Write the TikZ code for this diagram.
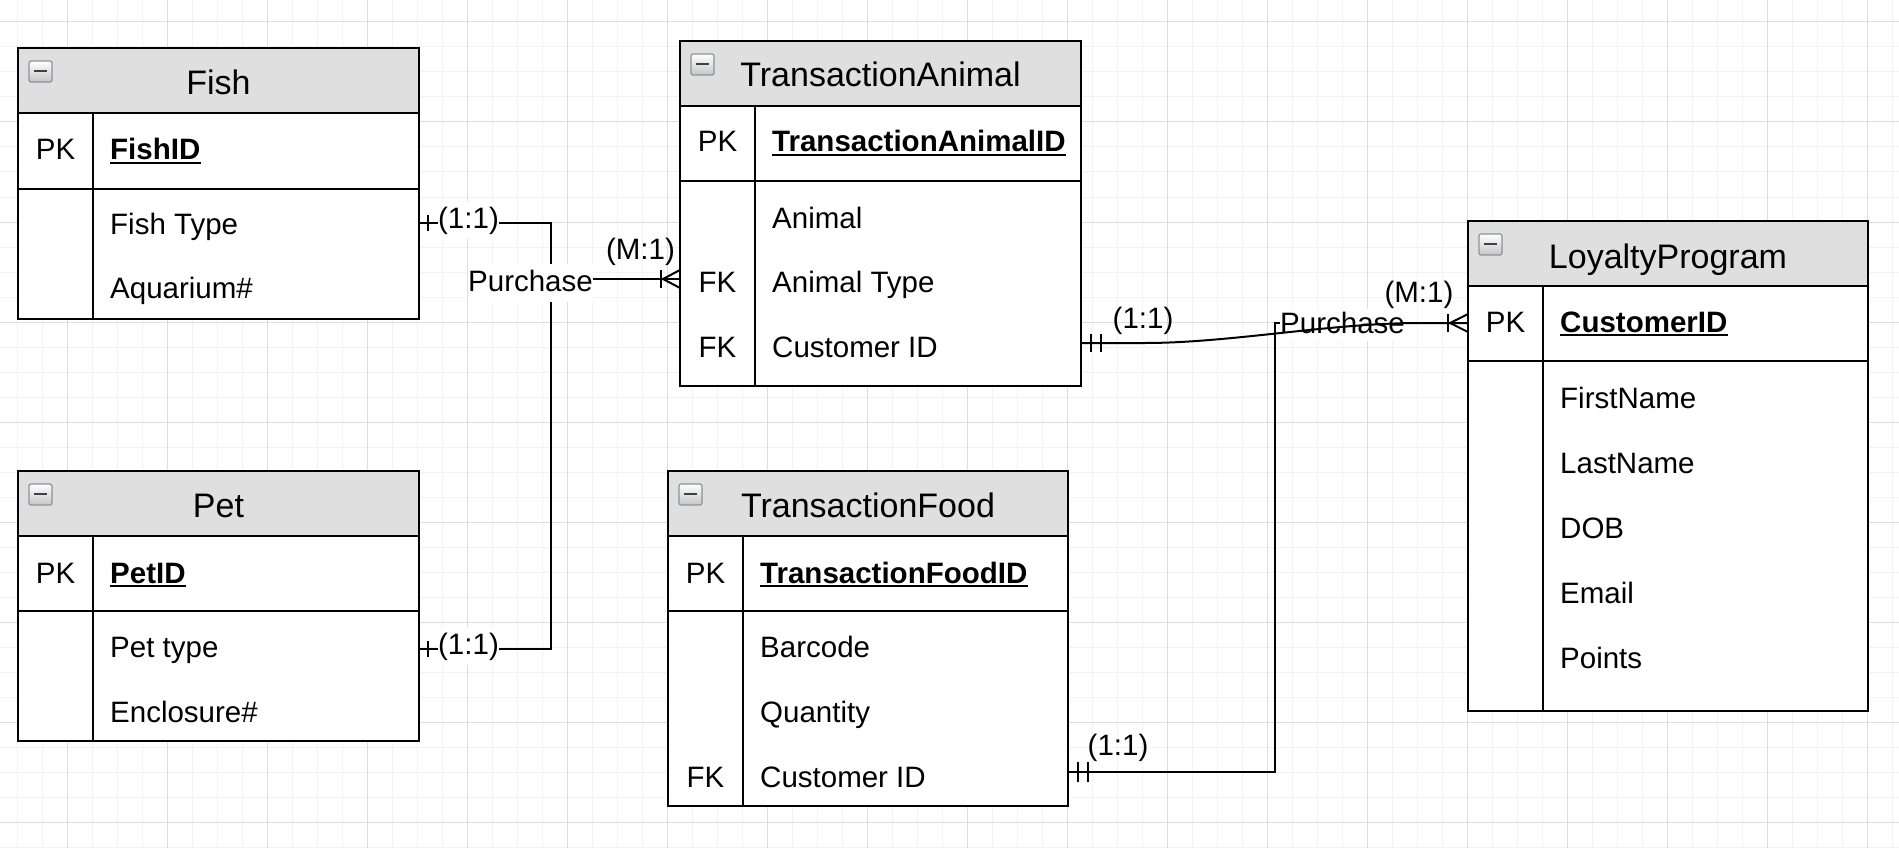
\documentclass[tikz,border=0pt]{standalone}
\usepackage{fontspec}
\setmainfont{Liberation Sans}
\usetikzlibrary{calc}
\definecolor{hdrgray}{HTML}{DFDFDF}
\definecolor{majgrid}{HTML}{DEDEDE}
\definecolor{mingrid}{HTML}{F3F3F3}
\definecolor{iconedge}{HTML}{8A939E}
\newcommand\attrfont{\fontsize{29.5}{35}\selectfont}
\newcommand\titlefont{\fontsize{34}{40}\selectfont}
\tikzset{
  tbl/.style={fill=white, inner sep=0pt, outer sep=0pt, anchor=north west},
  tline/.style={line width=2pt, black},
  attr/.style={font=\attrfont, inner sep=0pt, anchor=base west},
  keycol/.style={font=\attrfont, inner sep=0pt, anchor=base},
  ttl/.style={font=\titlefont, inner sep=0pt, anchor=base},
  pkname/.style={font=\attrfont\bfseries, inner sep=0pt, anchor=base west},
  conn/.style={line width=2pt, black},
  lbl/.style={font=\attrfont, inner sep=0pt, anchor=base},
  lblbg/.style={lbl, fill=white, inner ysep=4pt, text height=23pt, text depth=7pt},
  iconbox/.style={draw=iconedge, line width=1.2pt, rounded corners=2pt, top color=white, bottom color=gray!45},
  minorline/.style={mingrid, line width=1pt},
  majorline/.style={majgrid, line width=1pt}
}
% name, L, T, R, B, H(header bottom), P(pk bottom), D(divider)
\newcommand\ertable[8]{%
  \node[tbl, minimum width={#4-#2}, minimum height={#5-#3}] (#1) at (#2,#3) {};
  \fill[hdrgray] (#2,#3) rectangle (#4,#6);
  \draw[tline] (#2,#6) -- (#4,#6) (#2,#7) -- (#4,#7) (#8,#6) -- (#8,#5);
  \draw[tline] (#1.north west) rectangle (#1.south east);
  \draw[iconbox] (#2+11,#3+13) rectangle (#2+34,#3+34);
  \draw[line width=2pt, black!75] (#2+16,#3+23) -- (#2+29,#3+23);
}
\begin{document}
\begin{tikzpicture}[x=1pt,y=-1pt]
\useasboundingbox (0,0) rectangle (1899,856);
\fill[white] (0,0) rectangle (1899,856);
% grid
\foreach \i in {0,...,75} \draw[minorline] (17+25*\i,0) -- (17+25*\i,848);
\foreach \j in {0,...,33} \draw[minorline] (0,22+25*\j) -- (1899,22+25*\j);
\foreach \i in {0,...,18} \draw[majorline] (67+100*\i,0) -- (67+100*\i,848);
\foreach \j in {0,...,8} \draw[majorline] (0,22+100*\j) -- (1899,22+100*\j);

% ---------- Fish ----------
\ertable{fish}{18}{48}{419}{319}{113}{189}{93}
\node[ttl] (fishT) at (218.5,95) {Fish};
\node[keycol] (fishPK) at (55.5,160) {PK};
\node[pkname] (fishID) at (110,160) {FishID};
\draw[line width=2pt] ([yshift=-3pt]fishID.base west) -- ([yshift=-3pt]fishID.base east);
\node[attr] (fishA1) at (110,234) {Fish Type};
\node[attr] (fishA2) at (110,298) {Aquarium\#};

% ---------- Pet ----------
\ertable{pet}{18}{471}{419}{741}{536}{611}{93}
\node[ttl] (petT) at (218.5,517) {Pet};
\node[keycol] (petPK) at (55.5,583) {PK};
\node[pkname] (petID) at (110,583) {PetID};
\draw[line width=2pt] ([yshift=-3pt]petID.base west) -- ([yshift=-3pt]petID.base east);
\node[attr] (petA1) at (110,657) {Pet type};
\node[attr] (petA2) at (110,722) {Enclosure\#};

% ---------- TransactionAnimal ----------
\ertable{ta}{680}{41}{1081}{386}{106}{181}{755}
\node[ttl] (taT) at (880.5,87) {TransactionAnimal};
\node[keycol] (taPK) at (717.5,152) {PK};
\begin{scope}
\clip (755,106) rectangle (1067,181);
\node[pkname] (taID) at (772,152) {TransactionAnimalID};
\draw[line width=2pt] ([yshift=-3pt]taID.base west) -- ([yshift=-3pt]taID.base east);
\end{scope}
\node[attr] (taA1) at (772,228) {Animal};
\node[keycol] (taFK1) at (717.5,292.5) {FK};
\node[attr] (taA2) at (772,292.5) {Animal Type};
\node[keycol] (taFK2) at (717.5,357) {FK};
\node[attr] (taA3) at (772,357) {Customer ID};

% ---------- TransactionFood ----------
\ertable{tf}{668}{471}{1068}{806}{536}{611}{743}
\node[ttl] (tfT) at (868,517) {TransactionFood};
\node[keycol] (tfPK) at (705.5,583) {PK};
\node[pkname] (tfID) at (760,583) {TransactionFoodID};
\draw[line width=2pt] ([yshift=-3pt]tfID.base west) -- ([yshift=-3pt]tfID.base east);
\node[attr] (tfA1) at (760,657) {Barcode};
\node[attr] (tfA2) at (760,722) {Quantity};
\node[keycol] (tfFK) at (705.5,787) {FK};
\node[attr] (tfA3) at (760,787) {Customer ID};

% ---------- LoyaltyProgram ----------
\ertable{lp}{1468}{221}{1868}{711}{286}{361}{1543}
\node[ttl] (lpT) at (1668,268) {LoyaltyProgram};
\node[keycol] (lpPK) at (1505.5,332) {PK};
\node[pkname] (lpID) at (1560,332) {CustomerID};
\draw[line width=2pt] ([yshift=-3pt]lpID.base west) -- ([yshift=-3pt]lpID.base east);
\node[attr] (lpA1) at (1560,408) {FirstName};
\node[attr] (lpA2) at (1560,473) {LastName};
\node[attr] (lpA3) at (1560,538) {DOB};
\node[attr] (lpA4) at (1560,603) {Email};
\node[attr] (lpA5) at (1560,668) {Points};

% ---------- ports ----------
\path (fish.north east) ++(0,175) coordinate (fishR);
\path (pet.north east) ++(0,178) coordinate (petR);
\path (ta.north west) ++(0,238) coordinate (taL);
\path (ta.north east) ++(0,302) coordinate (taR);
\path (lp.north west) ++(0,102) coordinate (lpL);
\path (tf.north east) ++(0,301) coordinate (tfR);

% ---------- left connectors ----------
\draw[conn] (fishR) -- ++(132,0) |- (petR);
\draw[conn] (taL) -- ++(-129,0);
\draw[conn] ([xshift=9pt,yshift=8pt]fishR) -- ([xshift=9pt,yshift=-8pt]fishR);
\draw[conn] ([xshift=9pt,yshift=8pt]petR) -- ([xshift=9pt,yshift=-8pt]petR);
\draw[conn] ([xshift=-19pt,yshift=9pt]taL) -- ([xshift=-19pt,yshift=-9pt]taL);
\draw[conn] ([yshift=9pt]taL) -- ([xshift=-17pt]taL) -- ([yshift=-9pt]taL);
\node[lblbg] (l11a) at (468.5,228) {(1:1)};
\node[lblbg] (l11b) at (468.5,654) {(1:1)};
\node[lblbg] (purchA) at (530.5,291) {Purchase};
\node[lbl] (lm1a) at (640.5,259) {(M:1)};

% ---------- right connectors ----------
\draw[conn] (tfR) -- ++(207,0) |- (lpL);
\node[lblbg, inner ysep=1pt] (purchB) at (1342.5,333) {Purchase};
\draw[conn] (taR) -- ++(64,0) .. controls +(85,0) and +(-90,0) .. ([xshift=-48pt]lpL) -- (lpL);
\draw[conn] ([xshift=10pt,yshift=9pt]taR) -- ([xshift=10pt,yshift=-9pt]taR);
\draw[conn] ([xshift=20pt,yshift=9pt]taR) -- ([xshift=20pt,yshift=-9pt]taR);
\draw[conn] ([xshift=10pt,yshift=10pt]tfR) -- ([xshift=10pt,yshift=-10pt]tfR);
\draw[conn] ([xshift=20pt,yshift=10pt]tfR) -- ([xshift=20pt,yshift=-10pt]tfR);
\draw[conn] ([xshift=-20pt,yshift=9pt]lpL) -- ([xshift=-20pt,yshift=-9pt]lpL);
\draw[conn] ([yshift=9pt]lpL) -- ([xshift=-18pt]lpL) -- ([yshift=-9pt]lpL);
\node[lbl] (l11c) at (1143,328) {(1:1)};
\node[lbl] (lm1b) at (1419,302) {(M:1)};
\node[lbl] (l11d) at (1118,755) {(1:1)};
\end{tikzpicture}
\end{document}
